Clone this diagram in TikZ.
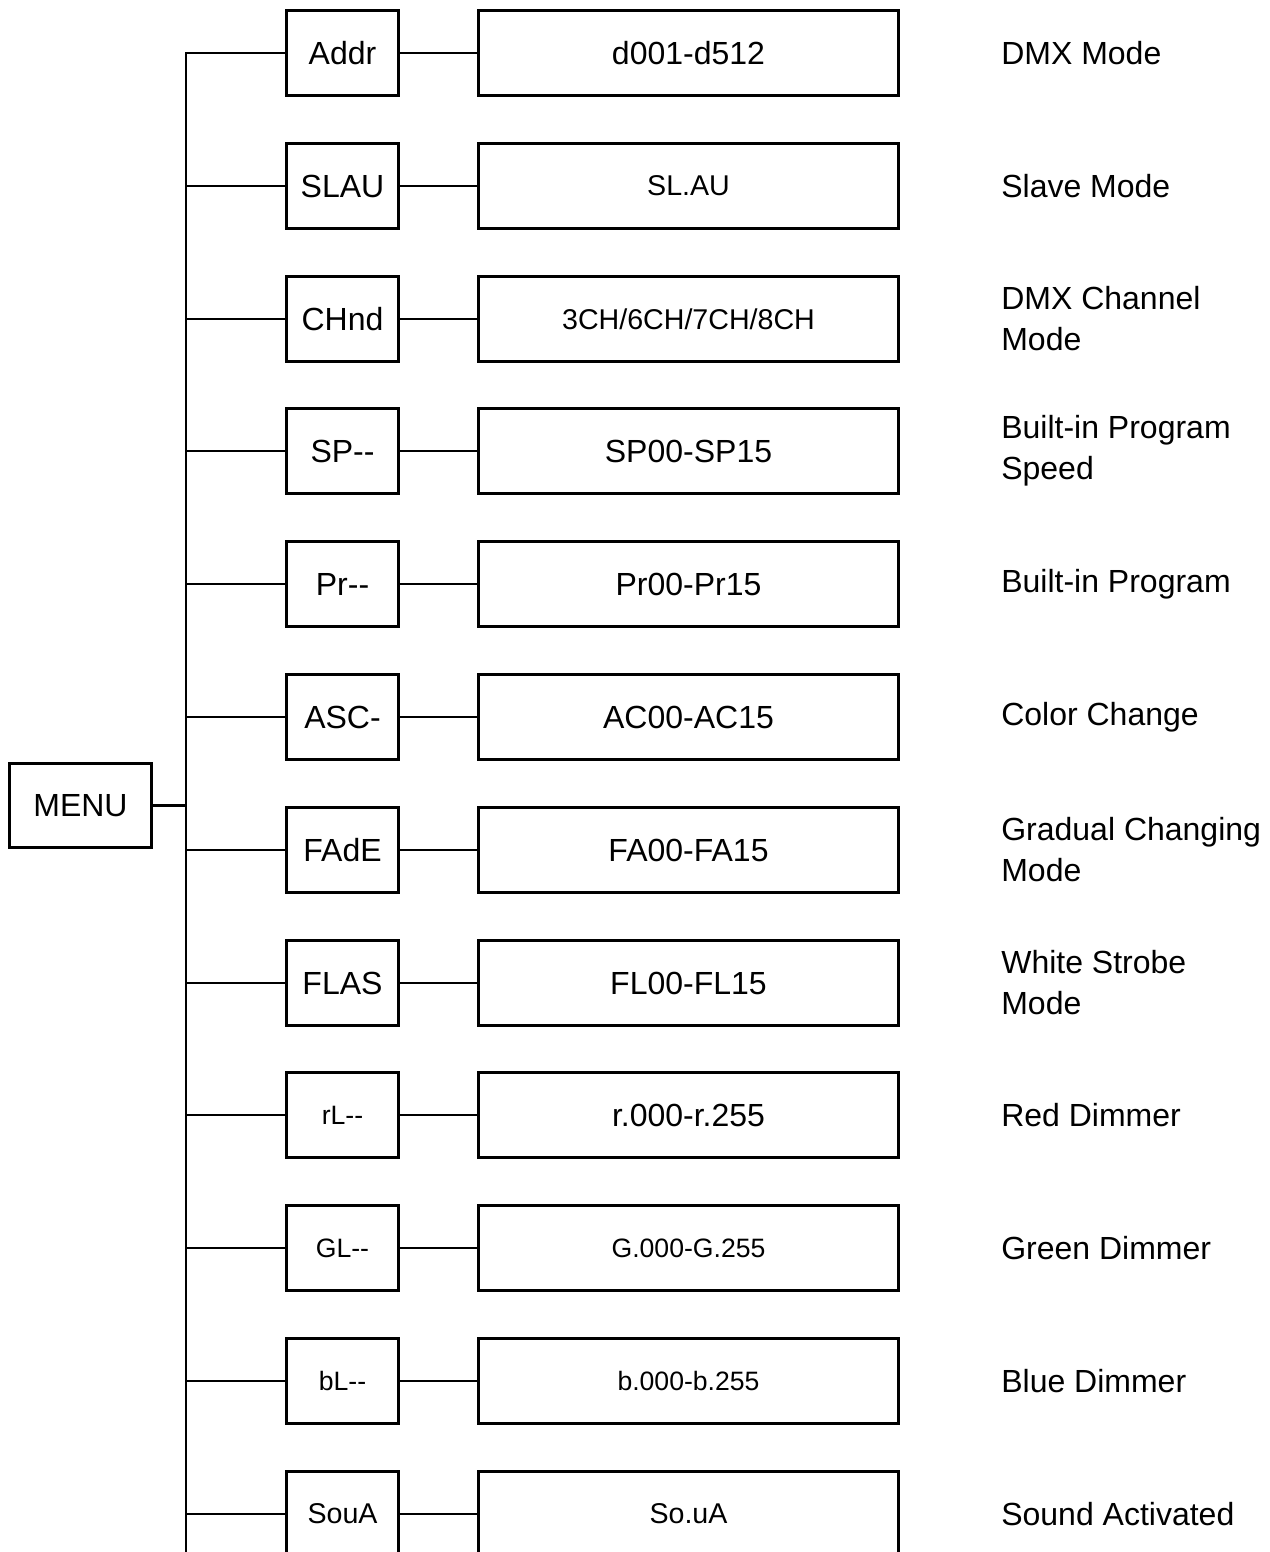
\documentclass[tikz,border=0pt]{standalone}
\usepackage{fontspec}
\setmainfont{Liberation Sans}[Ligatures=TeXOff]
\begin{document}
\begin{tikzpicture}[x=0.5pt,y=-0.5pt,line width=1.3pt,
  big/.style={font=\fontsize{16}{20.5}\selectfont},
  mid/.style={font=\fontsize{14.3}{18}\selectfont},
  sml/.style={font=\fontsize{13.3}{16}\selectfont},
  keybox/.style={draw,minimum width=56.2pt,minimum height=42.7pt,inner sep=0pt},
  valbox/.style={draw,minimum width=210.2pt,minimum height=42.7pt,inner sep=0pt},
  desc/.style={big,anchor=west,align=left,inner sep=0pt}]
\useasboundingbox (0,0) rectangle (1269,1552);
\node[draw,big,minimum width=71.2pt,minimum height=42.2pt] (menu) at (80.5,805.5) {MENU};
\coordinate (trunk) at (186,53);
\coordinate (trunkend) at (186,1570);
\draw (menu.east) -- (menu.east -| trunk);
% rows
\node[keybox,big] (addr) at (342.5,53) {Addr};
\node[valbox,big] (addrval) at (688.5,53) {d001-d512};
\node[desc] (addrtxt) at (1000,53) {DMX Mode};
\node[keybox,big] (slau) at (342.5,186) {SLAU};
\node[valbox,mid] (slauval) at (688.5,186) {SL.AU};
\node[desc] (slautxt) at (1000,186) {Slave Mode};
\node[keybox,big] (chnd) at (342.5,319) {CHnd};
\node[valbox,mid] (chndval) at (688.5,319) {3CH/6CH/7CH/8CH};
\node[desc] (chndtxt) at (1000,319) {DMX Channel\\Mode};
\node[keybox,big] (sp) at (342.5,451) {SP--};
\node[valbox,big] (spval) at (688.5,451) {SP00-SP15};
\node[desc] (sptxt) at (1000,451) {Built-in Program\\Speed};
\node[keybox,big] (pr) at (342.5,584) {Pr--};
\node[valbox,big] (prval) at (688.5,584) {Pr00-Pr15};
\node[desc] (prtxt) at (1000,584) {Built-in Program};
\node[keybox,big] (asc) at (342.5,717) {ASC-};
\node[valbox,big] (ascval) at (688.5,717) {AC00-AC15};
\node[desc] (asctxt) at (1000,717) {Color Change};
\node[keybox,big] (fade) at (342.5,850) {FAdE};
\node[valbox,big] (fadeval) at (688.5,850) {FA00-FA15};
\node[desc] (fadetxt) at (1000,850) {Gradual Changing\\Mode};
\node[keybox,big] (flas) at (342.5,983) {FLAS};
\node[valbox,big] (flasval) at (688.5,983) {FL00-FL15};
\node[desc] (flastxt) at (1000,983) {White Strobe\\Mode};
\node[keybox,sml] (rl) at (342.5,1115) {rL--};
\node[valbox,big] (rlval) at (688.5,1115) {r.000-r.255};
\node[desc] (rltxt) at (1000,1115) {Red Dimmer};
\node[keybox,sml] (gl) at (342.5,1248) {GL--};
\node[valbox,sml] (glval) at (688.5,1248) {G.000-G.255};
\node[desc] (gltxt) at (1000,1248) {Green Dimmer};
\node[keybox,sml] (bl) at (342.5,1381) {bL--};
\node[valbox,sml] (blval) at (688.5,1381) {b.000-b.255};
\node[desc] (bltxt) at (1000,1381) {Blue Dimmer};
\node[keybox,mid] (soua) at (342.5,1514) {SouA};
\node[valbox,mid] (souaval) at (688.5,1514) {So.uA};
\node[desc] (souatxt) at (1000,1514) {Sound Activated};
% connectors
\draw (trunkend) -- (trunk) -- (addr.west);
\draw (slau.west) -- (slau.west -| trunk);
\draw (chnd.west) -- (chnd.west -| trunk);
\draw (sp.west) -- (sp.west -| trunk);
\draw (pr.west) -- (pr.west -| trunk);
\draw (asc.west) -- (asc.west -| trunk);
\draw (fade.west) -- (fade.west -| trunk);
\draw (flas.west) -- (flas.west -| trunk);
\draw (rl.west) -- (rl.west -| trunk);
\draw (gl.west) -- (gl.west -| trunk);
\draw (bl.west) -- (bl.west -| trunk);
\draw (soua.west) -- (soua.west -| trunk);
\draw (addr) -- (addrval);
\draw (slau) -- (slauval);
\draw (chnd) -- (chndval);
\draw (sp) -- (spval);
\draw (pr) -- (prval);
\draw (asc) -- (ascval);
\draw (fade) -- (fadeval);
\draw (flas) -- (flasval);
\draw (rl) -- (rlval);
\draw (gl) -- (glval);
\draw (bl) -- (blval);
\draw (soua) -- (souaval);
\end{tikzpicture}
\end{document}
